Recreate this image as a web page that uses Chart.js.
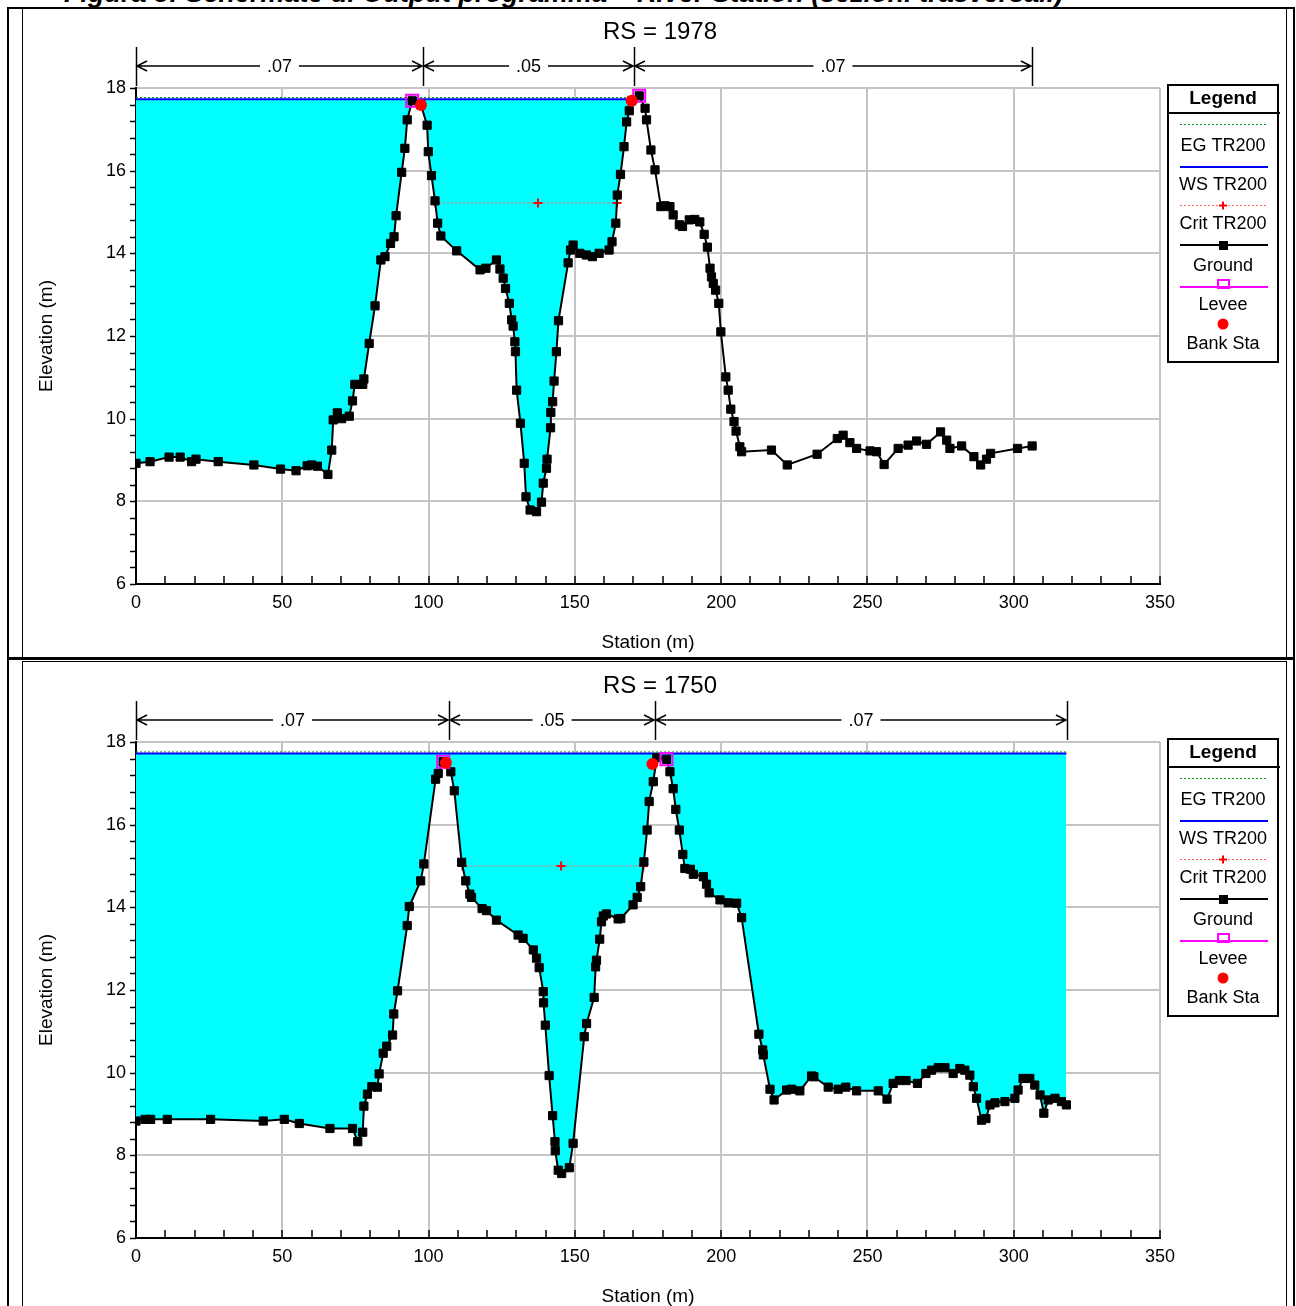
<!DOCTYPE html>
<html><head><meta charset="utf-8">
<script src="https://cdn.jsdelivr.net/npm/chart.js@4.4.1/dist/chart.umd.min.js"></script>
<style>
html,body{margin:0;padding:0;background:#fff;overflow:hidden;width:1296px;height:1306px;position:relative;font-family:"Liberation Sans",Arial,sans-serif;}
.caption{position:absolute;left:64px;top:-20px;font:italic bold 27px "Liberation Sans",Arial,sans-serif;white-space:nowrap;line-height:27px;}
.outer{position:absolute;left:7px;top:7px;width:1284px;height:1320px;border:2px solid #000;}
.frame{position:absolute;left:22px;width:1263px;border:1px solid #000;}
.sep{position:absolute;left:7px;width:1288px;top:657px;height:3px;background:#000;}
.holder{position:absolute;left:23px;width:1263px;height:648px;}
canvas{position:absolute;left:0;top:0;}
</style></head>
<body>
<div class="caption">Figura 3: Schermate di Output programma – River Station (sezioni trasversali)</div>
<div class="outer"></div>
<div class="frame" style="top:8px;height:648px"></div>
<div class="frame" style="top:661px;height:700px"></div>
<div class="sep"></div>
<div class="holder" style="top:9px"><canvas id="c1" width="1263" height="648"></canvas></div>
<div class="holder" style="top:663px"><canvas id="c2" width="1263" height="648"></canvas></div>
<script>
// ---------- RS = 1978 ----------
const groundStation1978 = [0,4.8,11.3,15.1,19.0,20.5,28.1,40.3,49.4,54.7,58.5,60.0,62.0,65.6,66.9,67.4,68.8,70.3,72.9,74.0,74.8,77.5,77.9,79.7,81.7,83.7,85.1,87.0,88.2,88.9,90.8,91.9,92.7,94.4,97.4,99.5,99.9,101.0,102.2,103.1,104.2,109.6,117.6,119.6,123.2,124.4,125.5,126.3,127.6,128.4,128.9,129.5,129.7,130.1,131.4,132.7,133.3,134.7,136.9,138.6,139.2,140.3,140.5,141.7,141.8,142.4,142.9,143.7,144.4,147.7,148.5,149.4,151.7,153.9,156.0,158.3,161.7,162.7,164.0,164.5,165.6,166.8,167.7,168.6,169.4,172.0,174.0,174.5,176.0,177.4,179.4,180.8,182.5,183.6,185.7,186.8,189.1,191.0,192.7,194.2,195.3,196.2,196.7,197.3,198.1,199.2,199.9,201.6,202.4,203.3,204.4,205.1,206.4,207.0,217.2,222.6,232.8,239.7,241.7,244.0,246.3,250.9,253.1,255.7,260.5,263.9,266.8,270.2,275.0,277.1,278.2,282.2,286.4,288.7,290.7,292.1,301.3,306.3];
const groundElev1978 = [8.92,8.96,9.07,9.07,8.96,9.02,8.96,8.88,8.78,8.74,8.86,8.88,8.85,8.65,9.24,9.97,10.14,10.0,10.06,10.43,10.83,10.83,10.96,11.82,12.73,13.84,13.92,14.24,14.40,14.91,15.96,16.54,17.23,17.69,17.59,17.1,16.46,15.88,15.27,14.73,14.42,14.06,13.6,13.64,13.84,13.62,13.40,13.15,12.79,12.39,12.24,11.86,11.62,10.69,9.89,8.92,8.11,7.79,7.75,7.98,8.44,8.80,9.02,9.78,10.15,10.41,10.91,11.62,12.37,13.77,14.08,14.2,14.0,13.96,13.92,14.0,14.08,14.28,14.73,15.41,15.91,16.58,17.18,17.45,17.69,17.81,17.51,17.23,16.50,16.02,15.13,15.15,15.13,14.93,14.69,14.65,14.81,14.82,14.76,14.46,14.15,13.64,13.43,13.27,13.11,12.79,12.10,11.01,10.69,10.23,9.93,9.70,9.32,9.20,9.24,8.88,9.14,9.52,9.60,9.42,9.28,9.22,9.20,8.89,9.28,9.36,9.46,9.38,9.68,9.48,9.28,9.34,9.08,8.88,9.02,9.16,9.28,9.34];
const leveeStation1978 = [94.4,172.0];
const leveeElev1978 = [17.69,17.81];
const bankStation1978 = [97.4,169.4];
const bankElev1978 = [17.59,17.69];
const critStation1978 = [102.3,137.4,164.4];
const critElev1978 = [15.22,15.22,15.22];
const wsStation1978 = [0,169.5];
const wsElev1978 = [17.73,17.73];
const egStation1978 = [0,169.5];
const egElev1978 = [17.77,17.77];
const nStation1978 = [0,98.1,170.2,306.2];
const nValue1978 = ['.07','.05','.07'];

// ---------- RS = 1750 ----------
const groundStation1750 = [0,3.1,5.0,10.7,25.5,43.5,50.7,55.8,66.3,74.0,75.8,77.5,77.9,79.1,80.6,82.5,83.1,84.5,85.7,87.7,88.1,89.4,92.7,93.4,97.3,98.4,102.4,103.3,105.0,105.9,107.6,108.8,111.3,112.7,114.1,114.7,118.3,119.8,123.2,130.6,132.3,135.8,136.9,137.8,139.2,139.3,139.9,141.2,142.4,143.2,143.3,144.3,145.5,148.1,149.4,153.2,154.0,156.6,157.1,157.4,158.5,159.1,159.7,160.8,164.8,165.7,169.9,171.3,172.5,173.6,174.7,175.4,176.8,178.0,181.3,182.5,183.6,184.5,185.7,186.9,187.6,189.5,190.5,193.9,195.0,195.9,199.6,202.4,205.3,207.0,212.9,214.2,214.4,216.7,218.1,222.4,224.1,226.9,230.9,231.7,236.6,240.0,242.6,246.3,253.7,256.7,258.8,260.9,263.2,267.1,270.0,271.9,274.2,276.5,279.3,281.6,283.3,285.0,286.2,287.3,289.0,290.5,291.9,293.6,297.0,300.4,301.5,303.2,305.5,307.2,309.0,310.3,311.8,314.1,316.3,318.0];
const groundElev1750 = [8.83,8.87,8.87,8.87,8.87,8.83,8.87,8.77,8.65,8.65,8.33,8.56,9.19,9.48,9.66,9.65,9.97,10.47,10.64,10.91,11.42,11.98,13.56,14.02,14.64,15.05,17.10,17.24,17.52,17.50,17.28,16.82,15.09,14.64,14.32,14.24,13.97,13.92,13.69,13.33,13.25,12.97,12.77,12.54,11.96,11.69,11.15,9.93,8.96,8.33,8.11,7.64,7.56,7.70,8.29,10.87,11.19,11.82,12.56,12.72,13.23,13.65,13.79,13.84,13.72,13.73,14.06,14.24,14.50,15.10,15.87,16.56,17.04,17.62,17.58,17.28,16.87,16.37,15.87,15.28,14.94,14.92,14.80,14.74,14.56,14.35,14.18,14.11,14.10,13.75,10.93,10.55,10.43,9.60,9.34,9.58,9.60,9.56,9.92,9.90,9.65,9.60,9.65,9.56,9.56,9.36,9.74,9.81,9.81,9.74,9.98,10.06,10.12,10.12,9.98,10.10,10.06,9.94,9.66,9.38,8.85,8.89,9.22,9.27,9.30,9.38,9.58,9.86,9.86,9.70,9.46,9.02,9.34,9.38,9.30,9.22];
const leveeStation1750 = [105.0,181.3];
const leveeElev1750 = [17.52,17.58];
const bankStation1750 = [105.9,176.5];
const bankElev1750 = [17.50,17.47];
const critStation1750 = [111.6,145.3,173.4];
const critElev1750 = [15.0,15.0,15.0];
const wsStation1750 = [0,318.0];
const wsElev1750 = [17.72,17.72];
const egStation1750 = [0,318.0];
const egElev1750 = [17.76,17.76];
const nStation1750 = [0,107.0,177.4,318.2];
const nValue1750 = ['.07','.05','.07'];

const legendLabels = ['EG TR200','WS TR200','Crit TR200','Ground','Levee','Bank Sta'];
const FONT = '"Liberation Sans", Arial, sans-serif';

const hecPlugin = {
  id: 'hec',
  afterDraw(chart, args, o) {
    const {ctx, chartArea: ca, scales: {x, y}} = chart;
    ctx.save();
    // axis ticks
    ctx.strokeStyle = '#000'; ctx.lineWidth = 1.5;
    for (let i = 0; i <= 35; i++) {
      const px = Math.round(x.getPixelForValue(i * 10));
      ctx.beginPath(); ctx.moveTo(px, ca.bottom); ctx.lineTo(px, ca.bottom - 8); ctx.stroke();
    }
    for (let i = 0; i <= 30; i++) {
      const py = Math.round(y.getPixelForValue(6 + i * 0.4)) + 0.5;
      ctx.beginPath(); ctx.moveTo(ca.left - 6, py); ctx.lineTo(ca.left, py); ctx.stroke();
    }
    // title
    ctx.fillStyle = '#000';
    ctx.font = '24px ' + FONT; ctx.textAlign = 'center'; ctx.textBaseline = 'middle';
    ctx.fillText(o.title, 637, 23);
    // Manning n
    const yTop = 38, yBot = 77, yA = 57;
    ctx.lineWidth = 1.5;
    o.nStations.forEach(s => {
      const px = Math.round(x.getPixelForValue(s)) + 0.5;
      ctx.beginPath(); ctx.moveTo(px, yTop); ctx.lineTo(px, yBot); ctx.stroke();
    });
    ctx.font = '18px ' + FONT;
    for (let i = 0; i < o.nValues.length; i++) {
      const x1 = x.getPixelForValue(o.nStations[i]), x2 = x.getPixelForValue(o.nStations[i + 1]);
      const mid = (x1 + x2) / 2, w = ctx.measureText(o.nValues[i]).width;
      ctx.beginPath();
      ctx.moveTo(x1 + 1, yA); ctx.lineTo(mid - w / 2 - 7, yA);
      ctx.moveTo(mid + w / 2 + 7, yA); ctx.lineTo(x2 - 1, yA);
      ctx.moveTo(x1 + 11, yA - 5); ctx.lineTo(x1 + 1, yA); ctx.lineTo(x1 + 11, yA + 5);
      ctx.moveTo(x2 - 11, yA - 5); ctx.lineTo(x2 - 1, yA); ctx.lineTo(x2 - 11, yA + 5);
      ctx.stroke();
      ctx.fillText(o.nValues[i], mid, yA + 1);
    }
    // legend
    const L = 1145, T = 76, W = 110, H = 277, cx = L + W / 2, s1 = L + 12, s2 = L + W - 10;
    ctx.lineWidth = 2; ctx.strokeRect(L, T, W, H);
    ctx.beginPath(); ctx.moveTo(L, 104); ctx.lineTo(L + W + 2, 104); ctx.stroke();
    ctx.font = 'bold 19px ' + FONT; ctx.fillText('Legend', cx, 90);
    ctx.font = '18px ' + FONT;
    const labY = [137, 176, 215, 257, 296, 335];
    legendLabels.forEach((t, i) => ctx.fillText(t, cx, labY[i]));
    // EG
    ctx.setLineDash([2, 2]); ctx.lineWidth = 1; ctx.strokeStyle = '#00a000';
    ctx.beginPath(); ctx.moveTo(s1, 115.5); ctx.lineTo(s2, 115.5); ctx.stroke();
    // Crit
    ctx.strokeStyle = '#ff6060';
    ctx.beginPath(); ctx.moveTo(s1, 196.5); ctx.lineTo(s2, 196.5); ctx.stroke();
    ctx.setLineDash([]);
    ctx.strokeStyle = '#ff0000'; ctx.lineWidth = 2;
    ctx.beginPath(); ctx.moveTo(cx - 4, 196.5); ctx.lineTo(cx + 4, 196.5); ctx.moveTo(cx, 192.5); ctx.lineTo(cx, 200.5); ctx.stroke();
    // WS
    ctx.strokeStyle = '#0000ff'; ctx.lineWidth = 2;
    ctx.beginPath(); ctx.moveTo(s1, 158); ctx.lineTo(s2, 158); ctx.stroke();
    // Ground
    ctx.strokeStyle = '#000';
    ctx.beginPath(); ctx.moveTo(s1, 236); ctx.lineTo(s2, 236); ctx.stroke();
    ctx.fillStyle = '#000'; ctx.fillRect(cx - 4, 232, 9, 9);
    // Levee
    ctx.strokeStyle = '#ff00ff';
    ctx.beginPath(); ctx.moveTo(s1, 278); ctx.lineTo(s2, 278); ctx.stroke();
    ctx.strokeRect(cx - 5, 271, 11, 8);
    // Bank
    ctx.fillStyle = '#ff0000';
    ctx.beginPath(); ctx.arc(cx, 315, 5.5, 0, Math.PI * 2); ctx.fill();
    ctx.restore();
  }
};

function pts(xs, ys) { return xs.map((v, i) => ({x: v, y: ys[i]})); }

function makeChart(id, d) {
  return new Chart(document.getElementById(id), {
    type: 'scatter',
    plugins: [hecPlugin],
    data: {datasets: [
      {label: 'Bank Sta', data: pts(d.bankSt, d.bankEl), showLine: false, pointStyle: 'circle', pointRadius: 6,
       pointBackgroundColor: '#ff0000', pointBorderColor: '#ff0000', pointBorderWidth: 0},
      {label: 'Levee', data: pts(d.leveeSt, d.leveeEl), showLine: false, pointStyle: 'rect', pointRadius: 8.5,
       pointBackgroundColor: 'rgba(0,0,0,0)', pointBorderColor: '#ff00ff', pointBorderWidth: 2},
      {label: 'Ground', data: pts(d.groundSt, d.groundEl), showLine: true, borderColor: '#000', borderWidth: 2, fill: false,
       pointStyle: 'rect', pointRadius: 5.8, pointBackgroundColor: '#000', pointBorderColor: '#000', pointBorderWidth: 1},
      {label: 'Crit TR200', data: pts(d.critSt, d.critEl), showLine: true, borderColor: '#ff6060', borderWidth: 1, borderDash: [2, 2],
       pointStyle: 'cross', pointRadius: 4.5, pointBorderColor: '#ff0000', pointBorderWidth: 2, fill: false},
      {label: 'WS TR200', data: pts(d.wsSt, d.wsEl), showLine: true, borderColor: '#0000ff', borderWidth: 2, pointRadius: 0,
       fill: {target: 2, above: '#00ffff', below: 'rgba(0,0,0,0)'}},
      {label: 'EG TR200', data: pts(d.egSt, d.egEl), showLine: true, borderColor: '#00a000', borderWidth: 1, borderDash: [2, 2], pointRadius: 0, fill: false}
    ]},
    options: {
      responsive: false, animation: false, events: [],
      layout: {padding: {top: 79, right: 126, bottom: 0, left: 0}},
      plugins: {
        legend: {display: false}, tooltip: {enabled: false},
        filler: {drawTime: 'beforeDatasetsDraw', propagate: false},
        hec: {title: d.title, nStations: d.nSt, nValues: d.nV}
      },
      scales: {
        x: {type: 'linear', min: 0, max: 350,
            afterFit(s) { s.height = 73; },
            ticks: {stepSize: 50, autoSkip: false, maxRotation: 0, padding: 8, color: '#000', font: {family: FONT, size: 18}},
            grid: {color: '#c4c4c4', lineWidth: 2, drawTicks: false},
            border: {color: '#000', width: 2},
            title: {display: true, text: 'Station (m)', color: '#000', font: {family: FONT, size: 19}, padding: {top: 0, bottom: 3}}},
        y: {type: 'linear', min: 6, max: 18,
            afterFit(s) { s.width = 113; },
            ticks: {stepSize: 2, padding: 10, color: '#000', font: {family: FONT, size: 18}},
            grid: {color: '#c4c4c4', lineWidth: 2, drawTicks: false},
            border: {color: '#000', width: 2},
            title: {display: true, text: 'Elevation (m)', color: '#000', font: {family: FONT, size: 19}, padding: {top: 12, bottom: 0}}}
      }
    }
  });
}

makeChart('c1', {title: 'RS = 1978', groundSt: groundStation1978, groundEl: groundElev1978,
  leveeSt: leveeStation1978, leveeEl: leveeElev1978, bankSt: bankStation1978, bankEl: bankElev1978,
  critSt: critStation1978, critEl: critElev1978, wsSt: wsStation1978, wsEl: wsElev1978,
  egSt: egStation1978, egEl: egElev1978, nSt: nStation1978, nV: nValue1978});
makeChart('c2', {title: 'RS = 1750', groundSt: groundStation1750, groundEl: groundElev1750,
  leveeSt: leveeStation1750, leveeEl: leveeElev1750, bankSt: bankStation1750, bankEl: bankElev1750,
  critSt: critStation1750, critEl: critElev1750, wsSt: wsStation1750, wsEl: wsElev1750,
  egSt: egStation1750, egEl: egElev1750, nSt: nStation1750, nV: nValue1750});
</script>
</body></html>
